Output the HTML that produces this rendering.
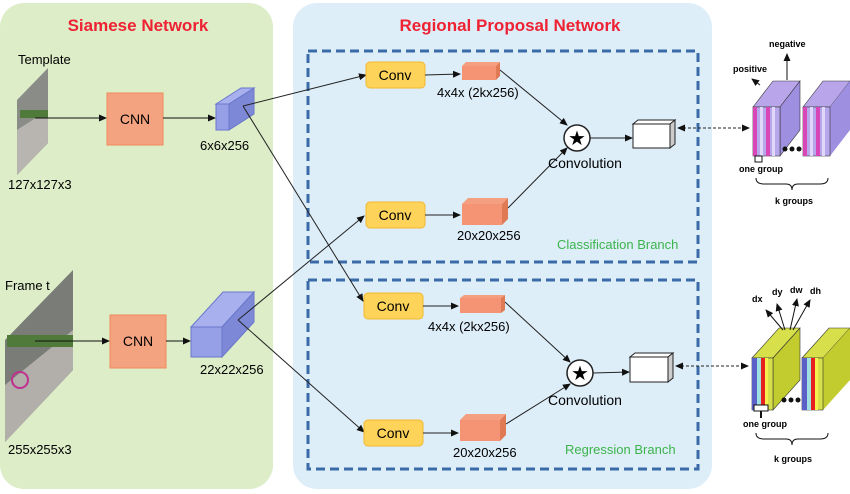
<!DOCTYPE html>
<html><head><meta charset="utf-8"><style>
body{margin:0;background:#fff}
svg{display:block;font-family:"Liberation Sans",sans-serif}
</style></head><body>
<svg width="850" height="494" viewBox="0 0 850 494" xmlns="http://www.w3.org/2000/svg">
<defs>
<marker id="a" markerWidth="8" markerHeight="8" refX="7" refY="4" orient="auto" markerUnits="userSpaceOnUse"><path d="M0,0.5 L8,4 L0,7.5z" fill="#111"/></marker>
<marker id="b" markerWidth="8" markerHeight="8" refX="1" refY="4" orient="auto" markerUnits="userSpaceOnUse"><path d="M8,0.5 L0,4 L8,7.5z" fill="#111"/></marker>
</defs>
<rect x="0" y="3" width="273" height="486" rx="24" fill="#dcedc8"/>
<rect x="293" y="3" width="419" height="486" rx="24" fill="#ddeef9"/>
<text x="138" y="31" font-size="17" font-weight="bold" fill="#ee2233" text-anchor="middle">Siamese Network</text>
<text x="510" y="31" font-size="17" font-weight="bold" fill="#ee2233" text-anchor="middle">Regional Proposal Network</text>
<rect x="308" y="51" width="390" height="211" fill="none" stroke="#3b6aa8" stroke-width="3" stroke-dasharray="9,5"/>
<rect x="308" y="280" width="390" height="189" fill="none" stroke="#3b6aa8" stroke-width="3" stroke-dasharray="9,5"/>

<polygon points="17,100 48,68 48,143 17,175" fill="#8a8c88"/>
<polygon points="17,130 48,110 48,143 17,175" fill="#b8b4b0"/>
<rect x="20" y="110" width="28" height="8" fill="#4f7a3a"/>
<text x="18" y="64" font-size="13">Template</text>
<text x="8" y="189" font-size="13">127x127x3</text>
<line x1="35" y1="118" x2="106" y2="118" stroke="#111" marker-end="url(#a)"/>
<rect x="107" y="93" width="56" height="52" fill="#f4a380" stroke="#ee8a5a"/>
<text x="135" y="124" font-size="14" text-anchor="middle">CNN</text>
<line x1="163" y1="118" x2="215" y2="118" stroke="#111" marker-end="url(#a)"/>
<polygon points="216,104 241,88 254,88 229,104" fill="#a8b0ee" stroke="#6a78cc"/>
<polygon points="229,104 254,88 254,114 229,130" fill="#7d88d6" stroke="#6a78cc"/>
<rect x="216" y="104" width="13" height="26" fill="#95a0e6" stroke="#6a78cc"/>
<text x="200" y="150" font-size="13">6x6x256</text>

<polygon points="5,340 73,270 73,370 5,442" fill="#7a7c78"/>
<polygon points="5,385 73,330 73,370 5,442" fill="#b2aeaa"/>
<rect x="7" y="335" width="66" height="12" fill="#4f7a3a"/>
<circle cx="20" cy="380" r="8" fill="none" stroke="#c03090" stroke-width="2"/>
<text x="5" y="290" font-size="13">Frame t</text>
<text x="8" y="454" font-size="13">255x255x3</text>
<line x1="35" y1="341" x2="109" y2="341" stroke="#111" marker-end="url(#a)"/>
<rect x="110" y="315" width="56" height="53" fill="#f4a380" stroke="#ee8a5a"/>
<text x="138" y="346" font-size="14" text-anchor="middle">CNN</text>
<line x1="166" y1="341" x2="190" y2="341" stroke="#111" marker-end="url(#a)"/>
<polygon points="191,327 223,292 254,292 222,327" fill="#a8b0ee" stroke="#6a78cc"/>
<polygon points="222,327 254,292 254,322 222,357" fill="#7d88d6" stroke="#6a78cc"/>
<rect x="191" y="327" width="31" height="30" fill="#95a0e6" stroke="#6a78cc"/>
<text x="200" y="374" font-size="13">22x22x256</text>

<g stroke="#222" stroke-width="1">
<line x1="243" y1="106" x2="366" y2="75" marker-end="url(#a)"/>
<line x1="243" y1="106" x2="363" y2="301" marker-end="url(#a)"/>
<line x1="238" y1="320" x2="364" y2="216" marker-end="url(#a)"/>
<line x1="238" y1="320" x2="364" y2="432" marker-end="url(#a)"/>
</g>

<g font-size="13">
<rect x="366" y="62" width="59" height="26" rx="4" fill="#fdd35a" stroke="#f2b830"/>
<text x="395" y="80" font-size="14" text-anchor="middle">Conv</text>
<line x1="425" y1="75" x2="460" y2="74" stroke="#222" marker-end="url(#a)"/>
<polygon points="462,66 466,62 500,62 496,66" fill="#f4a080"/><polygon points="496,66 500,62 500,76 496,80" fill="#e07a55"/>
<rect x="462" y="66" width="34" height="14" fill="#f59475"/>
<text x="437" y="97">4x4x (2kx256)</text>
<line x1="500" y1="70" x2="567" y2="125" stroke="#222" marker-end="url(#a)"/>
<rect x="366" y="202" width="59" height="26" rx="4" fill="#fdd35a" stroke="#f2b830"/>
<text x="395" y="220" font-size="14" text-anchor="middle">Conv</text>
<line x1="425" y1="215" x2="460" y2="215" stroke="#222" marker-end="url(#a)"/>
<polygon points="462,204 468,198 508,198 502,204" fill="#f4a080"/><polygon points="502,204 508,198 508,219 502,225" fill="#e07a55"/>
<rect x="462" y="204" width="40" height="21" fill="#f59475"/>
<text x="457" y="240">20x20x256</text>
<line x1="508" y1="208" x2="567" y2="148" stroke="#222" marker-end="url(#a)"/>
<circle cx="577" cy="138" r="13" fill="#fff" stroke="#222" stroke-width="1.5"/>
<text x="577" y="145" font-size="20" text-anchor="middle">★</text>
<text x="548" y="168" font-size="14">Convolution</text>
<line x1="590" y1="138" x2="632" y2="138" stroke="#222" marker-end="url(#a)"/>
<polygon points="633,124 638,120 675,120 670,124" fill="#fff" stroke="#222"/>
<polygon points="670,124 675,120 675,144 670,148" fill="#ccc" stroke="#222"/>
<rect x="633" y="124" width="37" height="24" fill="#fff" stroke="#222"/>
<text x="557" y="249" fill="#3cb44b" font-size="13">Classification Branch</text>
</g>

<g font-size="13">
<rect x="364" y="293" width="59" height="26" rx="4" fill="#fdd35a" stroke="#f2b830"/>
<text x="393" y="311" font-size="14" text-anchor="middle">Conv</text>
<line x1="423" y1="306" x2="458" y2="306" stroke="#222" marker-end="url(#a)"/>
<polygon points="460,298 464,295 505,295 501,298" fill="#f4a080"/><polygon points="501,298 505,295 505,310 501,313" fill="#e07a55"/>
<rect x="460" y="298" width="41" height="15" fill="#f59475"/>
<text x="428" y="331">4x4x (2kx256)</text>
<line x1="505" y1="302" x2="570" y2="362" stroke="#222" marker-end="url(#a)"/>
<rect x="364" y="420" width="59" height="26" rx="4" fill="#fdd35a" stroke="#f2b830"/>
<text x="393" y="438" font-size="14" text-anchor="middle">Conv</text>
<line x1="423" y1="433" x2="458" y2="433" stroke="#222" marker-end="url(#a)"/>
<polygon points="460,420 466,414 506,414 500,420" fill="#f4a080"/><polygon points="500,420 506,414 506,435 500,441" fill="#e07a55"/>
<rect x="460" y="420" width="40" height="21" fill="#f59475"/>
<text x="453" y="457">20x20x256</text>
<line x1="506" y1="424" x2="570" y2="384" stroke="#222" marker-end="url(#a)"/>
<circle cx="580" cy="373" r="13" fill="#fff" stroke="#222" stroke-width="1.5"/>
<text x="580" y="380" font-size="20" text-anchor="middle">★</text>
<text x="548" y="405" font-size="14">Convolution</text>
<line x1="593" y1="373" x2="629" y2="372" stroke="#222" marker-end="url(#a)"/>
<polygon points="630,357 635,353 673,353 668,357" fill="#fff" stroke="#222"/>
<polygon points="668,357 673,353 673,378 668,382" fill="#ccc" stroke="#222"/>
<rect x="630" y="357" width="38" height="25" fill="#fff" stroke="#222"/>
<text x="565" y="454" fill="#3cb44b" font-size="13">Regression Branch</text>
</g>

<line x1="678" y1="128" x2="749" y2="128" stroke="#222" stroke-dasharray="3,2" marker-start="url(#b)" marker-end="url(#a)"/>
<line x1="676" y1="366" x2="748" y2="366" stroke="#222" stroke-dasharray="3,2" marker-start="url(#b)" marker-end="url(#a)"/>

<g>
<polygon points="753,107 773,81 800,81 780,107" fill="#b9a6ea" stroke="#333" stroke-width="0.6"/>
<polygon points="780,107 800,81 800,130 780,156" fill="#9f8fe0" stroke="#333" stroke-width="0.6"/>
<rect x="753" y="107" width="27" height="49" fill="#b7a8ee" stroke="#333" stroke-width="0.6"/>
<rect x="753" y="107" width="4" height="49" fill="#d946b8"/><rect x="760" y="107" width="3" height="49" fill="#e0d8f8"/><rect x="766" y="107" width="4" height="49" fill="#d946b8"/><rect x="772" y="107" width="3" height="49" fill="#e0d8f8"/>
<polygon points="803,107 823,81 850,81 830,107" fill="#b9a6ea" stroke="#333" stroke-width="0.6"/>
<polygon points="830,107 850,81 850,130 830,156" fill="#9f8fe0"/>
<rect x="803" y="107" width="27" height="49" fill="#b7a8ee" stroke="#333" stroke-width="0.6"/>
<rect x="803" y="107" width="4" height="49" fill="#d946b8"/><rect x="810" y="107" width="3" height="49" fill="#e0d8f8"/><rect x="816" y="107" width="4" height="49" fill="#d946b8"/><rect x="822" y="107" width="3" height="49" fill="#e0d8f8"/>
<circle cx="785" cy="149" r="2.5" fill="#111"/><circle cx="792" cy="149" r="2.5" fill="#111"/><circle cx="799" cy="149" r="2.5" fill="#111"/>
<rect x="755" y="156" width="7" height="6" fill="#fff" stroke="#111"/>
<line x1="760" y1="85" x2="752" y2="79" stroke="#111" marker-end="url(#a)"/>
<line x1="787" y1="80" x2="787" y2="54" stroke="#111" marker-end="url(#a)"/>
<text x="733" y="72" font-size="9" font-weight="bold">positive</text>
<text x="769" y="47" font-size="9" font-weight="bold">negative</text>
<text x="739" y="172" font-size="9" font-weight="bold">one group</text>
<path d="M756,178 q0,6 8,6 h22 q6,0 6,6 q0,-6 6,-6 h22 q8,0 8,-6" fill="none" stroke="#111"/>
<text x="775" y="204" font-size="9" font-weight="bold">k groups</text>
</g>

<g>
<polygon points="752,358 779,328 800,328 773,358" fill="#d7e04a" stroke="#333" stroke-width="0.6"/>
<polygon points="773,358 800,328 800,380 773,410" fill="#c2cc2e" stroke="#333" stroke-width="0.6"/>
<rect x="752" y="358" width="21" height="52" fill="#d7e04a" stroke="#333" stroke-width="0.6"/>
<rect x="752" y="358" width="5" height="52" fill="#5b5fc8"/><rect x="757" y="358" width="4" height="52" fill="#9fe0e0"/><rect x="761" y="358" width="4" height="52" fill="#e82020"/><rect x="765" y="358" width="3" height="52" fill="#f5f050"/>
<polygon points="802,358 829,328 850,328 823,358" fill="#d7e04a" stroke="#333" stroke-width="0.6"/>
<polygon points="823,358 850,328 850,380 823,410" fill="#c2cc2e"/>
<rect x="802" y="358" width="21" height="52" fill="#d7e04a" stroke="#333" stroke-width="0.6"/>
<rect x="802" y="358" width="5" height="52" fill="#5b5fc8"/><rect x="807" y="358" width="4" height="52" fill="#9fe0e0"/><rect x="811" y="358" width="4" height="52" fill="#e82020"/><rect x="815" y="358" width="3" height="52" fill="#f5f050"/>
<circle cx="784" cy="400" r="2.5" fill="#111"/><circle cx="791" cy="400" r="2.5" fill="#111"/><circle cx="798" cy="400" r="2.5" fill="#111"/>
<rect x="754" y="405" width="14" height="6" fill="#fff" stroke="#111"/>
<line x1="761" y1="411" x2="761" y2="418" stroke="#111" stroke-width="2"/>
<g stroke="#111"><line x1="783" y1="330" x2="766" y2="310" marker-end="url(#a)"/><line x1="785" y1="330" x2="777" y2="304" marker-end="url(#a)"/><line x1="790" y1="330" x2="797" y2="299" marker-end="url(#a)"/><line x1="793" y1="330" x2="810" y2="300" marker-end="url(#a)"/></g>
<text x="752" y="302" font-size="9" font-weight="bold">dx</text>
<text x="772" y="295" font-size="9" font-weight="bold">dy</text>
<text x="790" y="293" font-size="9" font-weight="bold">dw</text>
<text x="810" y="294" font-size="9" font-weight="bold">dh</text>
<text x="743" y="427" font-size="9" font-weight="bold">one group</text>
<path d="M756,433 q0,6 8,6 h22 q6,0 6,6 q0,-6 6,-6 h22 q8,0 8,-6" fill="none" stroke="#111"/>
<text x="774" y="462" font-size="9" font-weight="bold">k groups</text>
</g>
</svg>
</body></html>
